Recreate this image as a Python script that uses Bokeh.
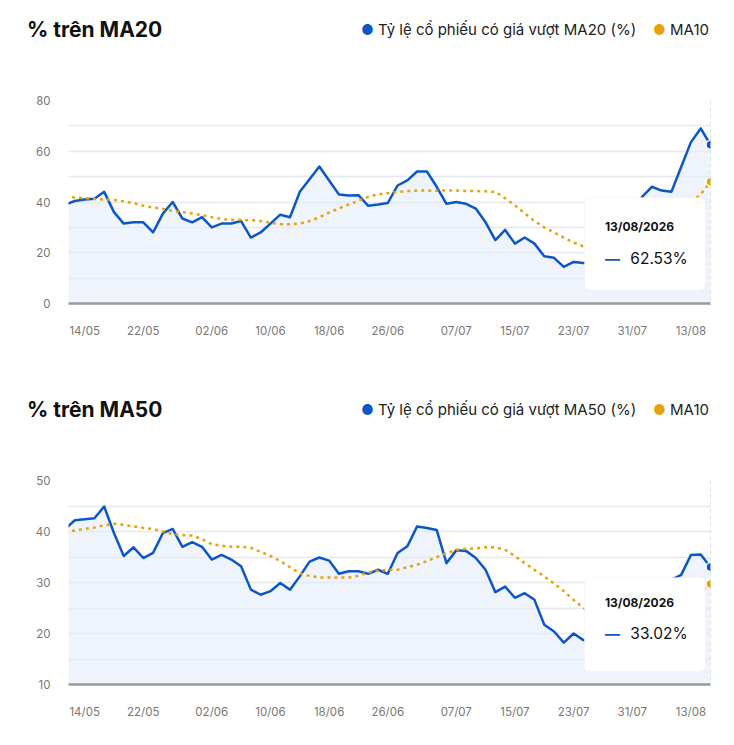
from bokeh.plotting import figure
from bokeh.models import FixedTicker, Div, Span, BoxAnnotation, Label, Range1d
from bokeh.layouts import column
from bokeh.embed import file_html
from bokeh.resources import INLINE

tick_pos = [2, 8, 15, 21, 27, 33, 40, 46, 52, 58, 64]
tick_labels = ["14/05", "22/05", "02/06", "10/06", "18/06", "26/06", "07/07", "15/07", "23/07", "31/07", "13/08"]

ma20 = [39, 40.4, 41, 41.3, 44, 36, 31.5, 32, 32, 28, 35.4,
        40, 33.5, 32, 34, 30, 31.5, 31.5, 32.5, 26, 28, 31.5,
        35, 34, 44, 49, 54, 48.5, 43, 42.6, 42.7, 38.5, 39, 39.6,
        46.5, 48.5, 52, 52, 46, 39.3, 40, 39.3, 37.4, 32, 25, 29,
        23.6, 26, 23.6, 18.6, 18, 14.4, 16.4, 16, 16, 17, 20,
        26, 33, 42, 46, 44.5, 44, 53.8, 63.6, 69, 62.53]
ma20_ma10 = [42, 41.8, 41.5, 41.2, 41, 40.8, 40.3, 39.5, 38.5, 37.8, 37.3,
             36.5, 36, 35.5, 34.8, 34, 33.3, 33, 33, 32.8, 32.5, 31.8,
             31.3, 31.2, 31.5, 32.5, 34, 35.8, 37.5, 39, 40.5, 42, 43, 43.5,
             44, 44.3, 44.5, 44.5, 44.4, 44.6, 44.5, 44.3, 44.3, 44.2, 44, 41.5,
             38.7, 35.5, 32.5, 30, 28, 26, 24, 22.5, 21.5, 20.5, 21,
             22, 23.5, 25.5, 28, 31, 34, 37, 40, 43, 48]

ma50 = [40.5, 42.2, 42.4, 42.6, 44.9, 39.7, 35.2, 36.9, 34.8, 35.8, 39.7,
        40.5, 37, 37.9, 37, 34.5, 35.4, 34.5, 33.2, 28.6, 27.6, 28.3,
        29.9, 28.6, 31.2, 34.1, 34.9, 34.3, 31.7, 32.2, 32.2, 31.7, 32.5, 31.7,
        35.8, 37.1, 41, 40.7, 40.3, 33.8, 36.3, 36.2, 34.8, 32.5, 28.1, 29.2,
        27, 27.9, 26.6, 21.7, 20.4, 18.2, 20, 18.7, 18.5, 19, 20.5,
        22.5, 25, 27, 28.5, 29.5, 30.5, 31.5, 35.4, 35.5, 33.02]
ma50_ma10 = [40, 40.2, 40.5, 40.8, 41.2, 41.5, 41.3, 41, 40.7, 40.5, 40,
             39.5, 39.3, 39.2, 38.5, 37.5, 37.2, 37, 37, 36.8, 36, 35.2,
             34.2, 33, 31.8, 31.3, 31, 31, 31, 31, 31.3, 32, 32.3, 32.5,
             32.5, 33, 33.5, 34.2, 35, 35.7, 36.4, 36.6, 36.7, 36.9, 36.9, 36.4,
             35.2, 33.8, 32.5, 31.2, 29.8, 28.3, 26.6, 25, 24, 23.5, 23.5,
             24, 24.5, 25, 25.5, 26, 26.5, 27, 27.5, 28.2, 29.7]

BLUE = "#0b57c9"
ORANGE = "#e8a20c"
FONT = "Inter"


def header(title, series):
    html = (f"<div style='width:682px;margin-top:10px;margin-left:22px;display:flex;justify-content:space-between;"
            f"align-items:center;font-family:{FONT};'>"
            f"<span style='font-size:21px;font-weight:700;color:#111;'>{title}</span>"
            f"<span style='font-size:15px;color:#222;'>"
            f"<span style='color:{BLUE};font-size:14px;'>&#9679;</span> {series}"
            f"&nbsp;&nbsp;&nbsp;&nbsp;<span style='color:{ORANGE};font-size:14px;'>&#9679;</span> MA10</span></div>")
    return Div(text=html, width=718, height=40)


def panel(vals, ma, ymin, ymax, yticks, gridticks, box, date_y, val_y, val_text, bt, bb, h):
    x = list(range(len(vals)))
    p = figure(width=718, height=h, output_backend="svg", toolbar_location=None,
               x_range=Range1d(0.35, len(vals) - 1), y_range=Range1d(ymin, ymax),
               min_border_left=68, min_border_right=8, min_border_top=bt, min_border_bottom=bb)
    p.outline_line_color = None
    p.varea(x=x, y1=[ymin] * len(x), y2=vals, fill_color="#e3ebfa", fill_alpha=0.6)
    p.line(x, vals, line_color=BLUE, line_width=2.5, line_join="round")
    p.line(x, ma, line_color=ORANGE, line_width=2.5, line_dash="3 4")
    p.add_layout(Span(location=len(vals) - 1, dimension="height", line_color="#c8c8c8",
                      line_dash="4 3", line_width=1))
    p.scatter([x[-1]], [vals[-1]], size=9, fill_color=BLUE, line_color="white", line_width=1.5)
    p.scatter([x[-1]], [ma[-1]], size=9, fill_color=ORANGE, line_color="white", line_width=1.5)
    p.xaxis.ticker = FixedTicker(ticks=tick_pos)
    p.xaxis.major_label_overrides = {t: l for t, l in zip(tick_pos, tick_labels)}
    p.yaxis.ticker = FixedTicker(ticks=yticks)
    p.ygrid.ticker = FixedTicker(ticks=gridticks)
    p.xgrid.grid_line_color = None
    p.ygrid.grid_line_color = "#e6e8ef"
    p.ygrid.grid_line_width = 1.5
    for ax in (p.xaxis, p.yaxis):
        ax.major_tick_line_color = None
        ax.minor_tick_line_color = None
        ax.major_label_text_color = "#777"
        ax.major_label_text_font = FONT
        ax.major_label_text_font_size = "11.5px"
    p.yaxis.axis_line_color = None
    p.xaxis.axis_line_color = "#9a9a9a"
    p.xaxis.axis_line_width = 2.5
    p.xaxis.major_label_standoff = 14
    p.yaxis.major_label_standoff = 12
    l, r, t, b = box
    p.add_layout(BoxAnnotation(left=l, right=r, top=t, bottom=b, fill_color="white", fill_alpha=1,
                               line_color="#e4e4e4", line_width=1, border_radius=6))
    p.add_layout(Label(x=l + 2.1, y=date_y, text="13/08/2026", text_font=FONT, text_font_size="12px",
                       text_font_style="bold", text_color="#111", text_baseline="middle"))
    p.add_layout(Label(x=l + 2.1, y=val_y, text="\u2014", text_font=FONT, text_font_size="15px",
                       text_color=BLUE, text_baseline="middle", text_font_style="bold"))
    p.add_layout(Label(x=l + 4.7, y=val_y, text=val_text, text_font=FONT, text_font_size="15.5px",
                       text_color="#111", text_baseline="middle"))
    return p


p1 = panel(ma20, ma20_ma10, 0, 80, [0, 20, 40, 60, 80], [0, 10, 20, 30, 40, 50, 60, 70, 80],
           (53.1, 65.5, 41.8, 5.2), 30.5, 17.8, "62.53%", 50, 45, 298)
p2 = panel(ma50, ma50_ma10, 10, 50, [10, 20, 30, 40, 50], [10, 15, 20, 25, 30, 35, 40, 45, 50],
           (53.1, 65.5, 31, 12.5), 26, 20, "33.02%", 50, 50, 304)

gap = Div(text="", width=10, height=22)
layout = column(header("% trên MA20", "Tỷ lệ cổ phiếu có giá vượt MA20 (%)"), p1, gap,
                header("% trên MA50", "Tỷ lệ cổ phiếu có giá vượt MA50 (%)"), p2)
open("out.html", "w").write(file_html(layout, INLINE))
